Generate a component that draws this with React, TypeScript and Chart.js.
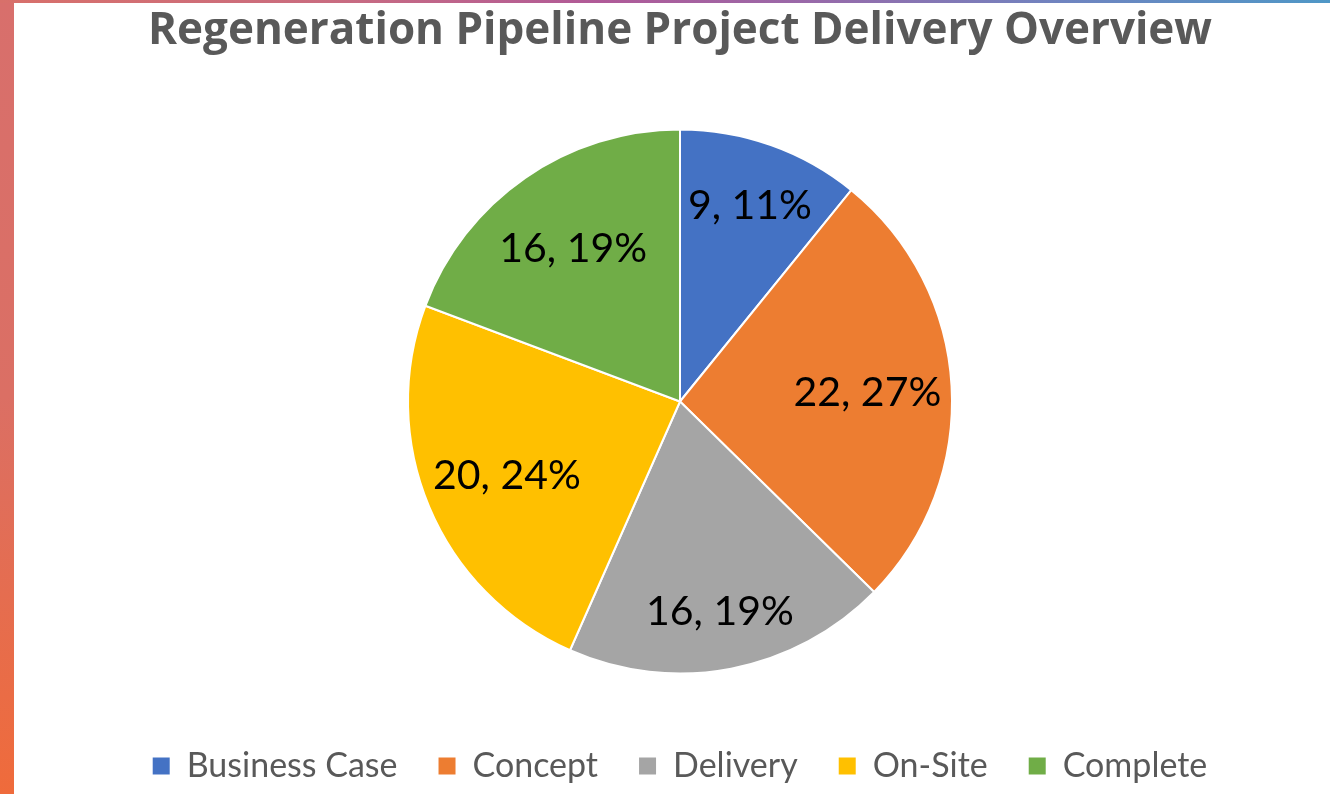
import React, { useEffect, useRef } from "react";
import { Chart, registerables } from "chart.js";

Chart.register(...registerables);

const titleText = "Regeneration Pipeline Project Delivery Overview";
const categories = ["Business Case", "Concept", "Delivery", "On-Site", "Complete"];
const projectCounts = [9, 22, 16, 20, 16];
const percentLabels = ["11%", "27%", "19%", "24%", "19%"];
const sliceColors = ["#4472C4", "#ED7D31", "#A5A5A5", "#FFC000", "#70AD47"];

// label placement (fraction of radius) for each slice, a style setting
const labelRadiusFrac = [0.77, 0.69, 0.78, 0.69, 0.69];

const FONT = "Lato, 'Noto Sans', sans-serif";
const TITLE_FONT = "'Open Sans', 'Noto Sans', sans-serif";

const dataLabelPlugin = {
  id: "sliceLabels",
  afterDatasetsDraw(chart: any) {
    const ctx = chart.ctx;
    const meta = chart.getDatasetMeta(0);
    ctx.save();
    ctx.font = `41px ${FONT}`;
    ctx.fillStyle = "#000000";
    ctx.textAlign = "center";
    ctx.textBaseline = "alphabetic";
    meta.data.forEach((arc: any, i: number) => {
      const { x, y, startAngle, endAngle, outerRadius } = arc.getProps(
        ["x", "y", "startAngle", "endAngle", "outerRadius"],
        true
      );
      const mid = (startAngle + endAngle) / 2;
      const r = outerRadius * labelRadiusFrac[i];
      const lx = x + Math.cos(mid) * r;
      const ly = y + Math.sin(mid) * r;
      const text = `${projectCounts[i]}, ${percentLabels[i]}`;
      ctx.fillText(text, lx, ly + 14.8);
    });
    ctx.restore();
  },
};

export default function App() {
  const canvasRef = useRef<HTMLCanvasElement | null>(null);

  useEffect(() => {
    document.body.style.margin = "0";
    const canvas = canvasRef.current;
    if (!canvas) return;
    const chart = new Chart(canvas, {
      type: "pie",
      data: {
        labels: categories,
        datasets: [
          {
            data: projectCounts,
            backgroundColor: sliceColors,
            borderColor: "#ffffff",
            borderWidth: 2,
            radius: 272,
          },
        ],
      },
      options: {
        responsive: false,
        animation: false,
        layout: { padding: { top: 0, bottom: 1, left: 0, right: 0 } },
        plugins: {
          title: {
            display: true,
            text: titleText,
            color: "#595959",
            font: { family: TITLE_FONT, size: 44, weight: "bold" },
            padding: { top: 1.6, bottom: 37.6 },
          },
          legend: {
            display: true,
            position: "bottom",
            labels: {
              color: "#595959",
              font: { family: FONT, size: 34 },
              boxWidth: 17,
              boxHeight: 17,
              padding: 41,
              generateLabels: (c: any) =>
                (Chart as any).overrides.pie.plugins.legend.labels
                  .generateLabels(c)
                  .map((l: any) => ({ ...l, lineWidth: 0, strokeStyle: l.fillStyle })),
            },
          },
          tooltip: { enabled: false },
        },
      },
      plugins: [dataLabelPlugin],
    });
    return () => chart.destroy();
  }, []);

  return (
    <div
      style={{
        position: "fixed",
        left: 0,
        top: 0,
        width: 1330,
        height: 794,
        overflow: "hidden",
        background: "linear-gradient(180deg, #d86f6c 0%, #db6f64 50%, #ef6b3b 100%)",
      }}
    >
      <div
        style={{
          position: "absolute",
          left: 0,
          top: 0,
          width: 1330,
          height: 3,
          background:
            "linear-gradient(90deg, #d8706a 0%, #c96c80 25%, #b05a98 45%, #9a68a8 60%, #6f84c0 80%, #4f97c6 100%)",
        }}
      />
      <div
        style={{
          position: "absolute",
          left: 14,
          top: 3,
          width: 1316,
          height: 791,
          background: "#ffffff",
        }}
      />
      <canvas
        ref={canvasRef}
        width={1300}
        height={791}
        style={{ position: "absolute", left: 30, top: 3, width: 1300, height: 791 }}
      />
    </div>
  );
}
